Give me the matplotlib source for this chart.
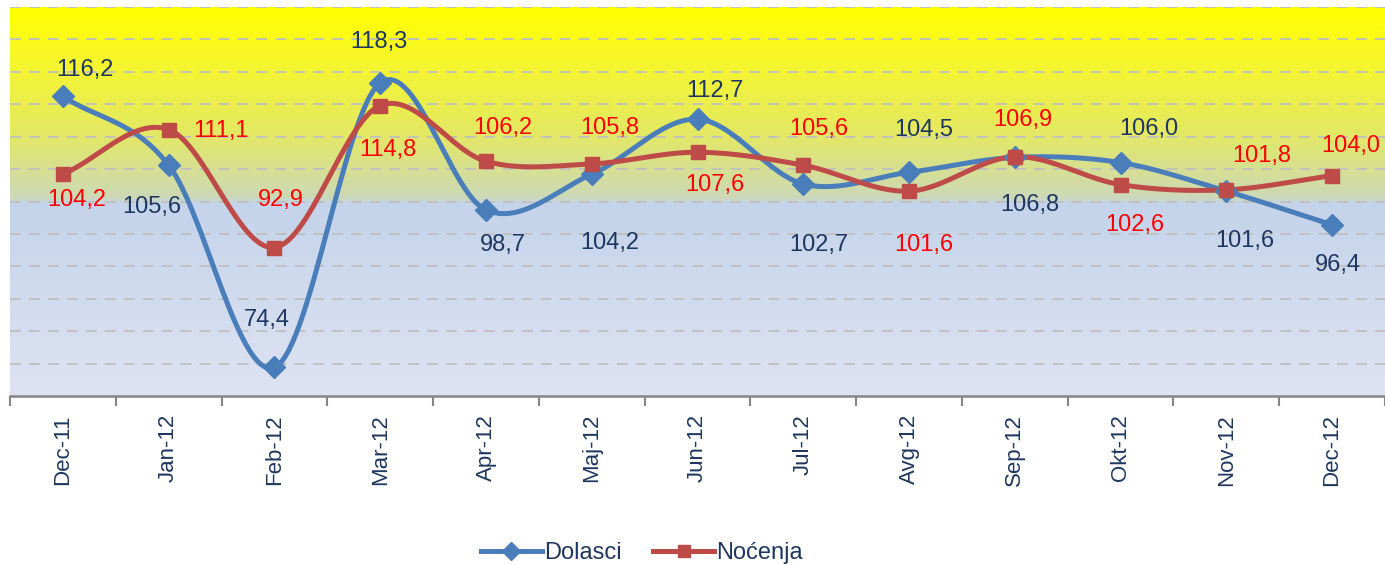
import numpy as np
import matplotlib
matplotlib.use("Agg")
import matplotlib.pyplot as plt
from matplotlib.colors import LinearSegmentedColormap

months = ["Dec-11", "Jan-12", "Feb-12", "Mar-12", "Apr-12", "Maj-12", "Jun-12",
          "Jul-12", "Avg-12", "Sep-12", "Okt-12", "Nov-12", "Dec-12"]
dolasci = [116.2, 105.6, 74.4, 118.3, 98.7, 104.2, 112.7, 102.7, 104.5, 106.8, 106.0, 101.6, 96.4]
nocenja = [104.2, 111.1, 92.9, 114.8, 106.2, 105.8, 107.6, 105.6, 101.6, 106.9, 102.6, 101.8, 104.0]

# label offsets from the point, in pixels (dx, dy up)
dol_off = [(22, 26), (-17, -42), (-8, 47), (-1, 41), (17, -35), (18, -69), (17, 28),
           (16, -61), (15, 42), (15, -48), (28, 34), (18, -50), (6, -40)]
noc_off = [(14, -26), (52, -1), (6, 48), (8, -44), (17, 33), (18, 36), (17, -33),
           (16, 36), (15, -54), (8, 37), (14, -40), (35, 34), (19, 30)]

BLUE = "#4a7ebb"
RED = "#be4b48"
NAVY = "#1f3760"

plt.rcParams['font.family'] = ['Liberation Sans', 'DejaVu Sans']


def smooth(y, n=30):
    # catmull-rom through the points, like excel's smoothed line
    y = np.asarray(y, float)
    x = np.arange(len(y), dtype=float)
    px = np.concatenate([[2 * x[0] - x[1]], x, [2 * x[-1] - x[-2]]])
    py = np.concatenate([[2 * y[0] - y[1]], y, [2 * y[-1] - y[-2]]])
    xs, ys = [], []
    for i in range(1, len(px) - 2):
        t = np.linspace(0, 1, n, endpoint=False)
        for arr, out in ((px, xs), (py, ys)):
            p0, p1, p2, p3 = arr[i - 1], arr[i], arr[i + 1], arr[i + 2]
            out.append(0.5 * ((2 * p1) + (-p0 + p2) * t
                              + (2 * p0 - 5 * p1 + 4 * p2 - p3) * t ** 2
                              + (-p0 + 3 * p1 - 3 * p2 + p3) * t ** 3))
    xs.append([x[-1]])
    ys.append([y[-1]])
    return np.concatenate(xs), np.concatenate(ys)


fig = plt.figure(figsize=(13.85, 5.64), dpi=100)
ax = fig.add_axes([10 / 1385, 1 - 396 / 564, 1 - 10 / 1385, (396 - 7) / 564])

# background gradient
cmap = LinearSegmentedColormap.from_list("bg", [
    (0.0, (1.0, 1.0, 0.0)),
    (0.12, (0.97, 0.97, 0.15)),
    (0.33, (0.89, 0.91, 0.40)),
    (0.49, (0.80, 0.85, 0.72)),
    (0.505, (0.77, 0.83, 0.92)),
    (1.0, (0.87, 0.89, 0.95)),
])
grad = np.linspace(0, 1, 400).reshape(-1, 1)
ax.imshow(grad, cmap=cmap, aspect="auto", extent=[0, 1, 0, 1],
          transform=ax.transAxes, zorder=0)

ax.set_xlim(-0.5, len(months) - 0.5)
ax.set_ylim(70, 130)

for g in range(75, 131, 5):
    ax.axhline(g, color="#bfbfbf", lw=1.3, dashes=(6, 4.5), zorder=1)

xd, yd = smooth(dolasci)
xn, yn = smooth(nocenja)
x = np.arange(len(months))
ax.plot(xd, yd, color=BLUE, lw=3.6, zorder=3, solid_capstyle="round")
ax.plot(x, dolasci, ls="none", marker="D", ms=11, color=BLUE, zorder=4)
ax.plot(xn, yn, color=RED, lw=3.6, zorder=3, solid_capstyle="round")
ax.plot(x, nocenja, ls="none", marker="s", ms=10, color=RED, zorder=4)

for i in range(len(months)):
    ax.annotate(f"{dolasci[i]:.1f}".replace(".", ","), (i, dolasci[i]),
                xytext=(dol_off[i][0] * 0.72, dol_off[i][1] * 0.72),
                textcoords="offset points", ha="center", va="center",
                fontsize=17, color=NAVY, zorder=5)
    ax.annotate(f"{nocenja[i]:.1f}".replace(".", ","), (i, nocenja[i]),
                xytext=(noc_off[i][0] * 0.72, noc_off[i][1] * 0.72),
                textcoords="offset points", ha="center", va="center",
                fontsize=17, color="#ff0000", zorder=5)

# category axis with ticks between categories
ax.set_xticks(np.arange(-0.5, len(months), 1.0))
ax.set_xticklabels([])
ax.set_xticks(x, minor=True)
ax.set_xticklabels(months, minor=True, rotation=90, fontsize=16, color=NAVY)
ax.tick_params(axis="x", which="major", length=7, width=1.5, color="#868686", direction="out")
ax.tick_params(axis="x", which="minor", length=0, pad=13)
ax.set_yticks([])
for s in ("left", "right", "top"):
    ax.spines[s].set_visible(False)
ax.spines["bottom"].set_color("#868686")
ax.spines["bottom"].set_linewidth(1.8)

h1 = plt.Line2D([], [], color=BLUE, lw=3.6, marker="D", ms=9)
h2 = plt.Line2D([], [], color=RED, lw=3.6, marker="s", ms=9)
leg = fig.legend([h1, h2], ["Dolasci", "Noćenja"], loc="center",
                 bbox_to_anchor=(642 / 1385, 1 - 553 / 564), ncol=2, frameon=False,
                 fontsize=17, handlelength=2.6, handletextpad=0.1, columnspacing=1.3)
for t in leg.get_texts():
    t.set_color(NAVY)

fig.savefig("out.png", dpi=100)
